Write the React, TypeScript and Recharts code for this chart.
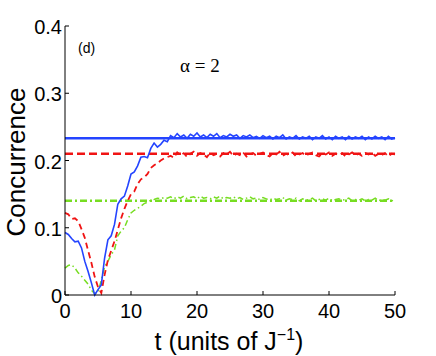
import React from 'react';
import { LineChart, Line, XAxis, YAxis, ReferenceLine } from 'recharts';

// time axis, 0..50 in steps of 0.5
const tValues = [
  0, 0.5, 1, 1.5, 2, 2.5, 3, 3.5, 4, 4.5,
  5, 5.5, 6, 6.5, 7, 7.5, 8, 8.5, 9, 9.5,
  10, 10.5, 11, 11.5, 12, 12.5, 13, 13.5, 14, 14.5,
  15, 15.5, 16, 16.5, 17, 17.5, 18, 18.5, 19, 19.5,
  20, 20.5, 21, 21.5, 22, 22.5, 23, 23.5, 24, 24.5,
  25, 25.5, 26, 26.5, 27, 27.5, 28, 28.5, 29, 29.5,
  30, 30.5, 31, 31.5, 32, 32.5, 33, 33.5, 34, 34.5,
  35, 35.5, 36, 36.5, 37, 37.5, 38, 38.5, 39, 39.5,
  40, 40.5, 41, 41.5, 42, 42.5, 43, 43.5, 44, 44.5,
  45, 45.5, 46, 46.5, 47, 47.5, 48, 48.5, 49, 49.5,
  50,
];

const blueCurve = [
  0.093, 0.090, 0.084, 0.079, 0.080, 0.070, 0.050, 0.035, 0.018, 0.000,
  0.008, 0.015, 0.055, 0.082, 0.088, 0.105, 0.135, 0.143, 0.147, 0.162,
  0.180, 0.183, 0.192, 0.205, 0.206, 0.204, 0.218, 0.226, 0.220, 0.224,
  0.230, 0.228, 0.237, 0.234, 0.240, 0.235, 0.238, 0.233, 0.239, 0.236,
  0.241, 0.235, 0.238, 0.234, 0.239, 0.236, 0.240, 0.234, 0.237, 0.235,
  0.239, 0.236, 0.238, 0.233, 0.237, 0.235, 0.238, 0.234, 0.236, 0.233,
  0.237, 0.234, 0.236, 0.232, 0.236, 0.234, 0.238, 0.232, 0.235, 0.233,
  0.237, 0.232, 0.235, 0.233, 0.236, 0.231, 0.235, 0.233, 0.237, 0.232,
  0.235, 0.231, 0.236, 0.233, 0.235, 0.231, 0.236, 0.232, 0.235, 0.233,
  0.236, 0.231, 0.235, 0.232, 0.236, 0.233, 0.235, 0.231, 0.236, 0.232,
  0.234,
];

const redCurve = [
  0.122, 0.120, 0.113, 0.114, 0.110, 0.098, 0.085, 0.066, 0.048, 0.027,
  0.012, 0.003, 0.030, 0.052, 0.066, 0.080, 0.097, 0.114, 0.128, 0.140,
  0.150, 0.154, 0.165, 0.172, 0.175, 0.180, 0.189, 0.193, 0.196, 0.200,
  0.203, 0.205, 0.207, 0.204, 0.212, 0.208, 0.211, 0.205, 0.210, 0.213,
  0.207, 0.211, 0.209, 0.205, 0.212, 0.208, 0.210, 0.206, 0.211, 0.209,
  0.213, 0.207, 0.210, 0.208, 0.212, 0.206, 0.209, 0.211, 0.207, 0.210,
  0.212, 0.208, 0.206, 0.211, 0.209, 0.213, 0.207, 0.210, 0.208, 0.212,
  0.206, 0.209, 0.211, 0.207, 0.210, 0.212, 0.208, 0.206, 0.211, 0.209,
  0.212, 0.207, 0.210, 0.208, 0.211, 0.206, 0.209, 0.212, 0.208, 0.210,
  0.207, 0.211, 0.209, 0.212, 0.207, 0.210, 0.208, 0.211, 0.206, 0.210,
  0.209,
];

const greenCurve = [
  0.040, 0.044, 0.045, 0.040, 0.033, 0.028, 0.022, 0.016, 0.007, 0.002,
  0.004, 0.022, 0.042, 0.050, 0.060, 0.067, 0.088, 0.095, 0.100, 0.112,
  0.122, 0.126, 0.129, 0.132, 0.136, 0.138, 0.141, 0.142, 0.144, 0.143,
  0.145, 0.144, 0.146, 0.143, 0.146, 0.144, 0.147, 0.143, 0.145, 0.146,
  0.143, 0.147, 0.144, 0.145, 0.143, 0.146, 0.144, 0.147, 0.143, 0.145,
  0.144, 0.146, 0.143, 0.145, 0.142, 0.144, 0.146, 0.143, 0.144, 0.142,
  0.145, 0.143, 0.141, 0.144, 0.142, 0.143, 0.145, 0.141, 0.143, 0.142,
  0.144, 0.140, 0.143, 0.141, 0.142, 0.144, 0.140, 0.142, 0.143, 0.141,
  0.144, 0.140, 0.142, 0.143, 0.141, 0.142, 0.144, 0.140, 0.142, 0.141,
  0.143, 0.140, 0.142, 0.141, 0.144, 0.140, 0.142, 0.141, 0.143, 0.140,
  0.142,
];

// steady-state levels (flat lines)
const blueLevel = 0.233;
const redLevel = 0.21;
const greenLevel = 0.14;

const xTicks = [0, 10, 20, 30, 40, 50];
const yTicks = [0, 0.1, 0.2, 0.3, 0.4];

const BLUE = '#2444ff';
const RED = '#f01414';
const GREEN = '#77dd22';
const SANS = '"Liberation Sans", Arial, sans-serif';
const SERIF = '"Liberation Serif", "Times New Roman", serif';

const data = tValues.map((t, i) => ({
  t,
  blue: blueCurve[i],
  red: redCurve[i],
  green: greenCurve[i],
}));

const fmtY = (v: number) => (v === 0 ? '0' : v.toFixed(1));

const LeftTick = (props: any) => {
  const { x, y, payload } = props;
  return (
    <g>
      <line x1={x} x2={x + 4} y1={y} y2={y} stroke="#000" />
      <text x={x - 3} y={y + 8} textAnchor="end" fontSize={20} fontFamily={SANS} fill="#000">
        {fmtY(payload.value)}
      </text>
    </g>
  );
};

const BottomTick = (props: any) => {
  const { x, y, payload } = props;
  return (
    <g>
      <line x1={x} x2={x} y1={y} y2={y - 4} stroke="#000" />
      <text x={x} y={y + 23} textAnchor="middle" fontSize={20} fontFamily={SANS} fill="#000">
        {payload.value}
      </text>
    </g>
  );
};

const TopTick = (props: any) => {
  const { x, y } = props;
  return <line x1={x} x2={x} y1={y} y2={y + 4} stroke="#000" />;
};

const RightTick = (props: any) => {
  const { x, y } = props;
  return <line x1={x} x2={x - 4} y1={y} y2={y} stroke="#000" />;
};

const App = () => {
  return (
    <div style={{ position: 'absolute', left: 0, top: 0, width: 436, height: 356, background: '#fff' }}>
      <LineChart width={436} height={356} data={data} margin={{ top: 26, right: 41, left: 0, bottom: 0 }}>
        <XAxis
          dataKey="t"
          type="number"
          domain={[0, 50]}
          ticks={xTicks}
          interval={0}
          height={61}
          tickLine={false}
          tickSize={0}
          tickMargin={0}
          axisLine={{ stroke: '#000' }}
          tick={<BottomTick />}
        />
        <XAxis
          xAxisId="top"
          orientation="top"
          type="number"
          dataKey="t"
          domain={[0, 50]}
          ticks={xTicks}
          interval={0}
          height={0}
          tickLine={false}
          tickSize={0}
          tickMargin={0}
          axisLine={{ stroke: '#000' }}
          tick={<TopTick />}
        />
        <YAxis
          type="number"
          domain={[0, 0.4]}
          ticks={yTicks}
          interval={0}
          width={65}
          tickLine={false}
          tickSize={0}
          tickMargin={0}
          axisLine={{ stroke: '#000' }}
          tick={<LeftTick />}
        />
        <YAxis
          yAxisId="right"
          orientation="right"
          type="number"
          domain={[0, 0.4]}
          ticks={yTicks}
          interval={0}
          width={0}
          tickLine={false}
          tickSize={0}
          tickMargin={0}
          axisLine={{ stroke: '#555' }}
          tick={<RightTick />}
        />
        <ReferenceLine y={greenLevel} stroke={GREEN} strokeWidth={2.5} strokeDasharray="7 3 2 3" />
        <ReferenceLine y={redLevel} stroke={RED} strokeWidth={2.5} strokeDasharray="8 4" />
        <ReferenceLine y={blueLevel} stroke={BLUE} strokeWidth={2.5} />
        <Line
          type="linear"
          dataKey="green"
          stroke={GREEN}
          strokeWidth={1.5}
          strokeDasharray="6 3 1.5 3"
          dot={false}
          isAnimationActive={false}
        />
        <Line
          type="linear"
          dataKey="red"
          stroke={RED}
          strokeWidth={1.8}
          strokeDasharray="6 4"
          dot={false}
          isAnimationActive={false}
        />
        <Line
          type="linear"
          dataKey="blue"
          stroke={BLUE}
          strokeWidth={1.6}
          dot={false}
          isAnimationActive={false}
        />
      </LineChart>
      <svg
        width={436}
        height={356}
        style={{ position: 'absolute', left: 0, top: 0, pointerEvents: 'none' }}
      >
        <text
          x={25}
          y={162}
          transform="rotate(-90 25 162)"
          textAnchor="middle"
          fontSize={26}
          fontFamily={SANS}
          fill="#000"
        >
          Concurrence
        </text>
        <text x={229} y={350} textAnchor="middle" fontSize={25} fontFamily={SANS} fill="#000">
          t (units of J
          <tspan dy={-10} fontSize={16}>−1</tspan>
          <tspan dy={10}>)</tspan>
        </text>
        <text x={78} y={53} fontSize={14} fontFamily={SANS} fill="#000">
          (d)
        </text>
        <text x={180} y={72} fontSize={19} fontFamily={SERIF} fill="#000">
          α = 2
        </text>
      </svg>
    </div>
  );
};

export default App;
